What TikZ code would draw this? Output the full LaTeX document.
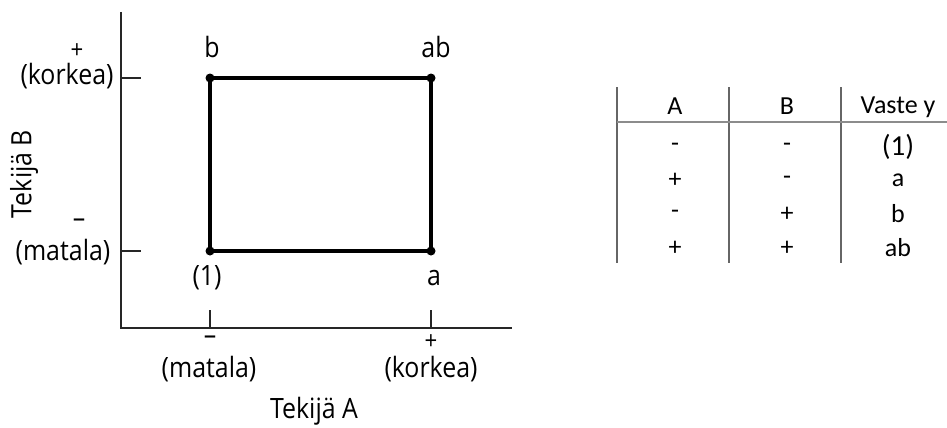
\documentclass[tikz,border=0pt]{standalone}
\usepackage{fontspec}
\setmainfont{Open Sans}[FakeStretch=0.89]
\newfontfamily\tablefont{Carlito}
\usetikzlibrary{positioning}

\begin{document}
\begin{tikzpicture}[x=1pt, y=-1pt,
    lbl/.style={font=\fontsize{28}{32}\selectfont, inner sep=0pt},
    sign/.style={font=\fontsize{25}{28}\selectfont, inner sep=0pt},
    tbl/.style={font=\tablefont\fontsize{26}{30}\selectfont, inner sep=0pt},
    corner/.style={circle, fill=black, inner sep=0pt, minimum size=9pt},
    axis/.style={line width=2.5pt, draw=black!85},
    rule/.style={line width=1.6pt, draw=black!60}]
  \useasboundingbox (0,0) rectangle (947,428);
  % axes
  \coordinate (origin) at (121,328);
  \coordinate (ytop) at (121,12);
  \coordinate (xend) at (512,328);
  \draw[axis] (ytop) -- (origin) -- (xend);
  % ticks
  \coordinate (tyhi) at (141,78);
  \coordinate (tylo) at (141,251);
  \coordinate (txlo) at (210,310);
  \coordinate (txhi) at (431,310);
  \draw[axis, line width=1.5pt] (121,78) -- (tyhi);
  \draw[axis, line width=1.5pt] (121,251) -- (tylo);
  \draw[axis, line width=1.5pt] (210,328) -- (txlo);
  \draw[axis, line width=1.5pt] (431,328) -- (txhi);
  % design square
  \node[corner] (one) at (210,251) {};
  \node[corner] (a) at (431,251) {};
  \node[corner] (b) at (210,78) {};
  \node[corner] (ab) at (431,78) {};
  \draw[line width=3.5pt, line join=round] (one.center) -- (a.center) -- (ab.center) -- (b.center) -- cycle;
  \node[lbl] (lb) at (212,47) {b};
  \node[lbl] (lab) at (436,47) {ab};
  \node[lbl] (lone) at (207,278) {(1)};
  \node[lbl] (la) at (434,278) {a};
  % factor B
  \node[sign] (bplus) at (77,51) {+};
  \node[lbl] (bhigh) at (67,76) {(korkea)};
  \node[lbl] (bminus) at (79,223) {--};
  \node[lbl] (blow) at (63,252) {(matala)};
  \node[lbl, rotate=90] (bname) at (24,174) {Tekijä B};
  % factor A
  \node[lbl] (aminus) at (210,340) {--};
  \node[lbl] (alow) at (209,369) {(matala)};
  \node[sign] (aplus) at (431,342) {+};
  \node[lbl] (ahigh) at (431,369) {(korkea)};
  \node[lbl] (aname) at (314,411) {Tekijä A};
  % table
  \draw[rule] (617,87) -- (617,263);
  \draw[rule] (729,87) -- (729,263);
  \draw[rule] (841,87) -- (841,263);
  \draw[rule, draw=black!45] (617,122) -- (947,122);
  \node[tbl] (hA) at (675,106) {A};
  \node[tbl] (hB) at (787,106) {B};
  \node[tbl] (hy) at (898,107) {Vaste y};
  \foreach \fa/\fb/\resp/\yy in {-/-/{\fontsize{29}{32}\selectfont(1)}/147, +/-/a/180, -/+/b/214, +/+/ab/248}{
    \node[tbl] at (675,\yy) {\fa};
    \node[tbl] at (787,\yy) {\fb};
    \node[tbl] at (898,\yy) {\resp};
  }
\end{tikzpicture}
\end{document}
